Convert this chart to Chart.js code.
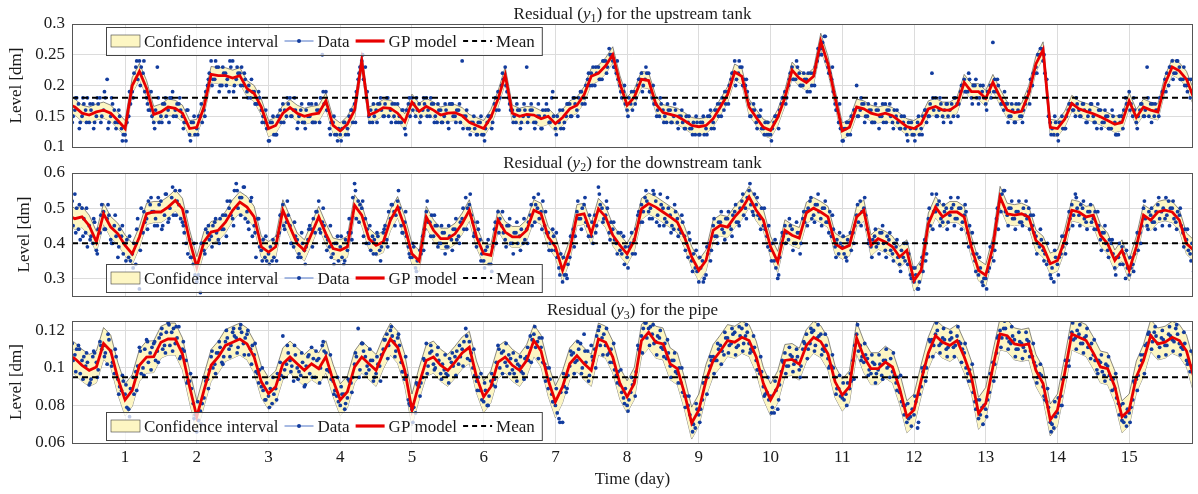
<!DOCTYPE html>
<html>
<head>
<meta charset="utf-8">
<script src="https://cdn.jsdelivr.net/npm/chart.js@4.4.1/dist/chart.umd.min.js"></script>
<style>
  html, body { margin: 0; padding: 0; background: #fff; }
  #wrap { position: relative; width: 1198px; height: 494px; }
  #wrap canvas { position: absolute; left: 0; top: 0; }
</style>
</head>
<body>
<div id="wrap">
  <canvas id="c1" width="1198" height="494"></canvas>
  <canvas id="c2" width="1198" height="494"></canvas>
  <canvas id="c3" width="1198" height="494"></canvas>
</div>
<script>
// ---- axes / labels ----
const dayTicks = [1, 2, 3, 4, 5, 6, 7, 8, 9, 10, 11, 12, 13, 14, 15];
const xMin = 0.26, xMax = 15.89;
const yTicks1 = [0.1, 0.15, 0.2, 0.25, 0.3];
const yTicks2 = [0.3, 0.4, 0.5, 0.6];
const yTicks3 = [0.06, 0.08, 0.1, 0.12];
const legendLabels = ['Confidence interval', 'Data', 'GP model', 'Mean'];
const titles = [
  ['Residual (', 'y', '1', ') for the upstream tank'],
  ['Residual (', 'y', '2', ') for the downstream tank'],
  ['Residual (', 'y', '3', ') for the pipe']
];

// GP model sampled every 0.1 day from 0.2; data every 0.05 day in three interleaved runs
const gpStart = 0.2, gpStep = 0.1;
const dataStartA = 0.25, dataStartB = 0.275, dataStartC = 0.2625, dataStep = 0.05;

// ---- upstream tank (y1) ----
const mean1 = 0.18, band1 = 0.013;
const gp1 = [
  .170,.165,.155,.152,.157,.160,.155,.143,
  .130,.200,.223,.195,.153,.157,.165,.163,.155,.130,
  .132,.165,.218,.216,.216,.212,.216,.195,.187,.165,
  .130,.135,.155,.164,.155,.150,.153,.155,.175,.135,
  .126,.137,.160,.240,.152,.157,.164,.163,.155,.141,
  .173,.158,.166,.160,.152,.155,.156,.151,.140,.135,
  .130,.148,.178,.217,.155,.150,.153,.152,.146,.150,
  .138,.148,.162,.168,.185,.215,.220,.232,.250,.203,
  .168,.181,.210,.208,.170,.156,.153,.150,.143,.135,
  .133,.135,.146,.165,.185,.222,.215,.165,.148,.132,
  .127,.148,.180,.225,.212,.205,.215,.272,.235,.180,
  .126,.132,.165,.162,.155,.152,.155,.151,.142,.133,
  .130,.138,.162,.166,.160,.160,.168,.205,.190,.190,
  .179,.205,.181,.160,.156,.158,.187,.235,.258,.132,
  .130,.145,.171,.162,.158,.154,.149,.143,.137,.140,
  .175,.148,.165,.160,.157,.203,.230,.224,.210,.180
];
const data1a = [
  .18,.16,.17,.15,.16,.14,.17,.15,.18,.16,.21,.15,.16,.14,.13,
  .12,.15,.19,.23,.24,.22,.18,.16,.14,.23,.15,.17,.16,.18,.16,.17,.15,.14,.12,.14,
  .13,.15,.16,.20,.24,.21,.23,.20,.22,.19,.24,.21,.22,.20,.19,.18,.19,.17,.16,.14,
  .11,.14,.12,.15,.17,.15,.18,.16,.13,.16,.14,.15,.17,.14,.16,.25,.19,.13,.14,.12,
  .12,.14,.13,.16,.17,.21,.24,.23,.15,.14,.16,.17,.15,.18,.16,.15,.17,.14,.13,.17,
  .18,.15,.17,.16,.18,.15,.17,.14,.16,.15,.14,.17,.15,.16,.24,.15,.13,.14,.12,.14,
  .12,.14,.15,.17,.19,.20,.23,.18,.16,.14,.16,.15,.23,.16,.14,.15,.13,.15,.16,.18,
  .13,.14,.16,.15,.17,.18,.16,.19,.18,.21,.22,.20,.23,.21,.24,.26,.24,.22,.20,.19,
  .16,.17,.19,.20,.22,.21,.22,.18,.17,.15,.16,.14,.16,.15,.14,.15,.13,.14,.13,.12,
  .12,.14,.13,.15,.14,.16,.17,.16,.19,.21,.24,.22,.23,.20,.17,.16,.14,.15,.13,.12,
  .12,.14,.15,.17,.19,.20,.23,.21,.22,.20,.21,.19,.22,.24,.26,.28,.23,.21,.17,.14,
  .11,.13,.14,.15,.20,.16,.17,.15,.16,.14,.16,.15,.17,.16,.14,.15,.13,.14,.12,.13,
  .12,.14,.13,.16,.15,.22,.18,.16,.15,.17,.16,.15,.17,.19,.21,.19,.18,.20,.17,.19,
  .17,.19,.27,.19,.18,.16,.17,.15,.14,.16,.15,.17,.19,.20,.23,.25,.24,.21,.14,.12,
  .12,.14,.13,.16,.17,.15,.16,.17,.14,.16,.15,.13,.16,.14,.15,.13,.14,.12,.15,.18,
  .19,.15,.14,.16,.15,.23,.17,.15,.16,.18,.21,.20,.24,.22,.23,.21,.20,.18,.16,.17
];
const data1b = [
  .15,.18,.14,.17,.18,.16,.14,.17,.15,.18,.14,.17,.13,.15,.12,
  .14,.17,.22,.21,.23,.19,.16,.15,.16,.14,.17,.15,.18,.15,.17,.16,.14,.16,.14,.12,
  .15,.14,.19,.22,.21,.23,.20,.22,.21,.23,.20,.22,.23,.21,.20,.19,.17,.18,.15,.13,
  .14,.12,.15,.14,.16,.17,.15,.16,.15,.14,.16,.15,.14,.16,.18,.17,.16,.14,.12,.13,
  .13,.12,.15,.14,.19,.23,.21,.19,.16,.15,.17,.16,.17,.15,.17,.14,.15,.16,.16,.15,
  .17,.16,.15,.17,.16,.17,.15,.16,.14,.16,.17,.15,.16,.14,.15,.13,.14,.13,.14,.12,
  .13,.15,.14,.16,.18,.21,.19,.16,.15,.16,.14,.16,.15,.16,.14,.15,.16,.17,.14,.15,
  .15,.13,.14,.17,.15,.17,.18,.17,.20,.20,.23,.22,.21,.24,.23,.25,.23,.21,.18,.17,
  .18,.16,.18,.21,.20,.22,.19,.17,.16,.17,.15,.16,.14,.16,.15,.14,.15,.13,.14,.14,
  .14,.12,.15,.13,.16,.15,.18,.17,.20,.22,.21,.23,.21,.19,.15,.16,.15,.13,.14,.12,
  .13,.15,.16,.18,.18,.22,.21,.23,.20,.21,.22,.20,.23,.25,.27,.24,.22,.19,.16,.13,
  .13,.12,.15,.16,.15,.17,.15,.16,.14,.16,.15,.14,.16,.15,.16,.14,.15,.13,.14,.12,
  .13,.12,.15,.14,.17,.16,.15,.17,.16,.15,.17,.18,.17,.20,.19,.21,.20,.18,.20,.18,
  .19,.18,.21,.20,.17,.17,.15,.16,.17,.15,.16,.18,.21,.22,.25,.26,.22,.15,.13,.14,
  .14,.13,.15,.17,.16,.17,.15,.16,.15,.17,.14,.16,.14,.15,.13,.15,.12,.14,.16,.17,
  .17,.16,.15,.17,.16,.15,.17,.16,.18,.19,.22,.23,.22,.24,.21,.20,.21,.19,.17,.18
];
const data1c = [
  .14,.18,.13,.18,.14,.17,.13,.18,.14,.19,.13,.18,.14,.16,.11,
  .11,.19,.18,.24,.20,.24,.17,.19,.13,.18,.14,.18,.14,.19,.15,.18,.13,.16,.11,.15,
  .12,.17,.15,.21,.20,.24,.19,.23,.20,.24,.19,.23,.20,.22,.18,.21,.17,.19,.14,.16,
  .11,.15,.12,.16,.14,.18,.15,.18,.14,.17,.13,.17,.14,.17,.14,.19,.16,.12,.15,.11,
  .11,.14,.12,.16,.14,.22,.25,.18,.14,.17,.14,.18,.15,.18,.14,.17,.14,.16,.12,.18,
  .16,.18,.14,.18,.15,.18,.14,.17,.14,.17,.13,.17,.14,.17,.13,.16,.12,.15,.12,.15,
  .11,.15,.13,.18,.16,.22,.20,.17,.14,.17,.13,.17,.14,.17,.13,.17,.13,.16,.14,.19,
  .12,.16,.13,.17,.15,.18,.15,.19,.17,.22,.20,.23,.21,.24,.22,.25,.23,.24,.19,.20,
  .15,.19,.17,.21,.19,.23,.19,.20,.15,.18,.14,.17,.14,.17,.13,.16,.13,.15,.12,.15,
  .12,.15,.12,.16,.13,.17,.15,.19,.17,.22,.20,.24,.20,.21,.15,.17,.13,.16,.12,.14,
  .11,.15,.13,.18,.17,.21,.21,.24,.20,.22,.19,.22,.20,.26,.25,.28,.22,.23,.16,.17,
  .11,.14,.12,.16,.15,.18,.14,.17,.14,.17,.13,.17,.14,.17,.13,.16,.13,.15,.11,.14,
  .11,.15,.12,.16,.15,.18,.15,.18,.14,.17,.14,.18,.15,.20,.19,.22,.17,.21,.18,.20,
  .16,.20,.19,.21,.17,.19,.14,.17,.14,.17,.14,.18,.17,.22,.22,.26,.25,.18,.12,.15,
  .11,.15,.13,.17,.16,.18,.15,.17,.14,.17,.14,.17,.13,.16,.13,.16,.12,.15,.13,.17,
  .16,.18,.13,.17,.15,.18,.14,.17,.15,.19,.19,.23,.21,.24,.21,.23,.19,.21,.17,.18
];

// ---- downstream tank (y2) ----
const mean2 = 0.4, band2 = 0.03;
const gp2 = [
  .480,.470,.475,.450,.404,.484,.446,.427,
  .394,.370,.418,.484,.489,.489,.503,.522,.498,.408,
  .332,.404,.432,.437,.460,.494,.517,.503,.475,.390,
  .375,.390,.494,.446,.399,.380,.427,.475,.427,.385,
  .380,.390,.508,.480,.413,.394,.404,.466,.503,.446,
  .370,.350,.475,.437,.413,.413,.427,.456,.494,.418,
  .370,.366,.466,.432,.418,.418,.437,.494,.484,.418,
  .390,.323,.380,.480,.484,.427,.498,.475,.423,.394,
  .370,.408,.498,.513,.503,.489,.475,.460,.418,.361,
  .323,.351,.437,.451,.446,.475,.498,.532,.494,.466,
  .390,.347,.437,.423,.415,.487,.500,.489,.475,.399,
  .385,.394,.475,.494,.394,.413,.404,.390,.361,.380,
  .294,.323,.456,.503,.475,.489,.489,.475,.390,.323,
  .309,.390,.532,.484,.480,.484,.475,.408,.390,.342,
  .351,.408,.494,.489,.475,.480,.423,.399,.351,.380,
  .323,.390,.480,.466,.489,.494,.489,.466,.399,.380
];
const data2a = [
  .47,.54,.44,.50,.43,.45,.40,.38,.43,.49,.47,.41,.45,.36,.42,
  .40,.36,.37,.34,.27,.43,.47,.51,.49,.45,.52,.48,.46,.53,.55,.51,.46,.40,.41,.34,
  .29,.26,.38,.43,.42,.46,.41,.44,.48,.50,.47,.57,.53,.56,.49,.52,.45,.47,.38,.36,
  .37,.35,.40,.43,.51,.46,.45,.39,.41,.36,.38,.41,.44,.43,.52,.46,.42,.39,.37,.40,
  .39,.34,.38,.43,.57,.52,.50,.47,.40,.42,.37,.38,.43,.41,.47,.49,.52,.45,.46,.39,
  .36,.33,.30,.42,.49,.46,.42,.45,.40,.43,.39,.41,.44,.42,.47,.53,.51,.46,.39,.41,
  .35,.39,.34,.44,.49,.45,.41,.45,.40,.43,.42,.40,.44,.48,.53,.50,.49,.45,.43,.38,
  .38,.33,.29,.31,.36,.44,.49,.47,.51,.45,.42,.48,.56,.50,.48,.43,.44,.40,.38,.42,
  .36,.40,.41,.48,.51,.53,.49,.47,.52,.45,.50,.46,.48,.44,.47,.43,.42,.36,.35,.33,
  .29,.35,.31,.40,.45,.42,.46,.43,.47,.44,.49,.46,.52,.50,.55,.49,.51,.47,.45,.42,
  .38,.35,.30,.40,.45,.41,.44,.40,.43,.47,.49,.52,.48,.51,.47,.50,.46,.42,.39,.37,
  .39,.36,.40,.43,.48,.52,.50,.44,.39,.42,.40,.43,.38,.41,.37,.39,.34,.36,.40,.31,
  .29,.27,.34,.41,.47,.54,.49,.52,.46,.50,.48,.51,.47,.50,.48,.43,.40,.35,.31,.29,
  .30,.33,.40,.47,.52,.55,.48,.50,.47,.49,.46,.48,.50,.45,.42,.39,.38,.34,.31,.29,
  .34,.37,.42,.44,.51,.54,.48,.50,.46,.49,.47,.44,.41,.43,.38,.40,.33,.36,.39,.30,
  .31,.34,.40,.43,.50,.45,.48,.46,.51,.49,.47,.52,.50,.46,.48,.43,.41,.37,.32,.39
];
const data2b = [
  .45,.50,.41,.47,.39,.42,.46,.44,.51,.44,.48,.40,.42,.44,.37,
  .41,.35,.40,.47,.50,.46,.52,.49,.47,.51,.45,.54,.50,.48,.52,.47,.43,.37,.36,.31,
  .31,.40,.44,.41,.45,.43,.47,.44,.52,.48,.55,.50,.53,.47,.44,.42,.36,.39,.41,.35,
  .39,.36,.42,.48,.44,.48,.40,.42,.37,.40,.39,.45,.47,.49,.43,.45,.41,.36,.40,.35,
  .36,.41,.47,.53,.47,.51,.42,.44,.38,.41,.42,.39,.45,.49,.51,.48,.50,.43,.42,.36,
  .39,.35,.37,.44,.46,.48,.45,.40,.43,.39,.42,.44,.41,.46,.44,.50,.48,.43,.44,.37,
  .38,.34,.39,.40,.47,.43,.45,.40,.43,.40,.44,.41,.46,.45,.51,.47,.52,.43,.40,.42,
  .36,.37,.31,.34,.40,.42,.47,.50,.46,.48,.40,.45,.51,.47,.50,.46,.41,.43,.37,.39,
  .39,.37,.44,.46,.49,.52,.50,.54,.48,.51,.47,.50,.45,.49,.44,.46,.40,.41,.37,.32,
  .33,.30,.37,.38,.42,.46,.44,.47,.45,.48,.46,.50,.48,.53,.51,.54,.48,.50,.44,.45,
  .40,.33,.36,.42,.43,.45,.40,.43,.40,.46,.50,.47,.51,.49,.50,.46,.49,.44,.41,.40,
  .37,.41,.38,.45,.46,.49,.48,.41,.41,.39,.43,.40,.42,.38,.40,.36,.38,.35,.37,.33,
  .31,.29,.32,.37,.45,.49,.51,.47,.49,.46,.50,.47,.50,.46,.49,.45,.37,.37,.33,.30,
  .32,.36,.38,.44,.54,.49,.50,.47,.49,.46,.50,.47,.48,.43,.40,.41,.37,.35,.33,.36,
  .36,.39,.40,.47,.48,.50,.51,.47,.49,.46,.49,.45,.43,.40,.41,.37,.36,.34,.37,.33,
  .33,.37,.38,.45,.47,.49,.46,.49,.47,.50,.48,.50,.47,.49,.45,.44,.38,.40,.35,.36
];
const data2c = [
  .52,.43,.51,.42,.50,.41,.47,.37,.48,.44,.51,.40,.48,.39,.45,
  .35,.42,.33,.44,.38,.49,.44,.53,.45,.53,.44,.54,.47,.56,.48,.55,.45,.49,.36,.40,
  .30,.40,.37,.45,.39,.47,.40,.48,.42,.52,.45,.55,.48,.56,.46,.53,.43,.47,.35,.42,
  .34,.41,.35,.48,.45,.52,.40,.46,.36,.43,.34,.44,.39,.49,.44,.50,.38,.45,.34,.42,
  .42,.35,.43,.41,.55,.46,.52,.40,.45,.37,.43,.35,.44,.39,.51,.45,.55,.43,.49,.37,
  .40,.32,.38,.38,.52,.42,.48,.39,.45,.37,.45,.38,.47,.40,.50,.44,.54,.42,.46,.35,
  .33,.41,.32,.46,.43,.49,.39,.47,.37,.46,.38,.47,.40,.51,.46,.54,.44,.49,.38,.44,
  .43,.31,.36,.30,.42,.39,.52,.44,.53,.42,.46,.43,.54,.46,.52,.41,.46,.37,.43,.34,
  .33,.43,.37,.49,.46,.55,.47,.55,.46,.54,.45,.53,.43,.51,.42,.48,.38,.43,.32,.38,
  .36,.29,.39,.35,.47,.40,.49,.41,.49,.42,.51,.45,.54,.47,.57,.48,.53,.44,.50,.39,
  .35,.41,.31,.43,.40,.47,.38,.46,.37,.49,.45,.53,.46,.54,.45,.52,.43,.48,.36,.43,
  .42,.35,.43,.40,.51,.45,.53,.40,.36,.44,.37,.45,.36,.43,.35,.41,.32,.40,.34,.30,
  .33,.27,.36,.35,.50,.44,.54,.45,.51,.44,.53,.45,.53,.44,.51,.39,.43,.32,.36,.28,
  .27,.39,.35,.50,.49,.55,.45,.52,.44,.52,.45,.52,.44,.48,.37,.44,.35,.40,.30,.38,
  .31,.42,.37,.49,.45,.53,.45,.52,.44,.51,.44,.49,.38,.45,.36,.41,.31,.40,.34,.38,
  .36,.32,.43,.40,.52,.44,.50,.44,.53,.45,.53,.45,.52,.44,.50,.39,.44,.35,.42,.34
];

// ---- pipe (y3) ----
const mean3 = 0.095, band3 = 0.0085;
const gp3 = [
  .107,.105,.1014,.0987,.1005,.113,.109,.0943,
  .083,.088,.1014,.1058,.106,.1137,.1154,.1154,.1075,.090,
  .074,.088,.1014,.1058,.112,.1137,.1154,.1128,.1058,.0926,
  .0864,.090,.1022,.1058,.1022,.0987,.1022,.0996,.106,.0934,
  .083,.0873,.1005,.1058,.1022,.0987,.108,.1154,.111,.0987,
  .0776,.0917,.104,.1058,.1014,.0987,.1031,.108,.111,.0952,
  .0846,.090,.1031,.1058,.1014,.0987,.104,.1146,.109,.0934,
  .082,.090,.1022,.1066,.1022,.0987,.1154,.1137,.1058,.0917,
  .0846,.0917,.1146,.119,.1137,.1128,.1022,.0996,.0864,.0706,
  .0776,.0934,.104,.109,.1146,.1137,.1163,.1146,.1058,.0917,
  .083,.090,.104,.1045,.102,.112,.1163,.114,.1075,.0926,
  .0855,.090,.116,.106,.0996,.0996,.1031,.1005,.089,.074,
  .0776,.0934,.108,.1172,.1137,.112,.1146,.106,.0952,.0758,
  .0811,.1005,.1181,.1172,.1128,.112,.1128,.0987,.0917,.0723,
  .0776,.097,.1181,.1163,.1146,.108,.1005,.0996,.090,.074,
  .0776,.0952,.104,.1172,.1128,.1137,.1163,.1146,.109,.0952
];
const data3a = [
  .110,.107,.112,.104,.101,.091,.106,.103,.114,.112,.102,.109,.097,.094,.088,
  .086,.078,.071,.098,.111,.100,.115,.108,.113,.109,.118,.112,.124,.119,.113,.122,.110,.104,.093,.081,
  .066,.077,.084,.094,.106,.102,.108,.103,.114,.110,.119,.116,.121,.113,.118,.110,.107,.097,.090,.083,
  .085,.081,.089,.094,.117,.102,.104,.093,.100,.096,.090,.106,.111,.095,.105,.112,.108,.098,.093,.085,
  .080,.086,.084,.092,.102,.121,.113,.106,.099,.104,.097,.101,.110,.118,.120,.114,.116,.103,.094,.083,
  .078,.076,.090,.095,.113,.108,.102,.107,.097,.099,.096,.103,.106,.102,.110,.121,.114,.100,.093,.088,
  .082,.080,.093,.094,.112,.108,.103,.107,.099,.104,.101,.097,.106,.117,.118,.114,.111,.102,.089,.086,
  .080,.073,.071,.087,.101,.108,.104,.113,.118,.109,.112,.110,.120,.116,.112,.108,.103,.096,.091,.084,
  .080,.087,.093,.112,.117,.124,.121,.118,.114,.116,.110,.105,.101,.104,.097,.092,.085,.080,.072,.068,
  .075,.083,.095,.101,.106,.104,.112,.107,.116,.113,.119,.112,.121,.117,.113,.109,.104,.097,.090,.087,
  .085,.076,.078,.098,.108,.101,.106,.104,.099,.110,.118,.113,.120,.116,.118,.109,.105,.101,.095,.089,
  .084,.086,.089,.104,.118,.112,.103,.105,.097,.102,.099,.096,.104,.101,.098,.092,.087,.080,.071,.074,
  .075,.068,.090,.101,.106,.115,.118,.112,.116,.110,.115,.111,.117,.113,.108,.097,.093,.082,.073,.079,
  .078,.087,.103,.108,.120,.121,.116,.113,.115,.110,.113,.109,.114,.106,.101,.097,.090,.082,.071,.068,
  .076,.085,.095,.104,.119,.116,.118,.113,.117,.111,.107,.099,.103,.096,.101,.094,.089,.081,.072,.074,
  .076,.083,.094,.101,.107,.113,.117,.119,.113,.116,.112,.118,.115,.121,.113,.110,.104,.098,.092,.080
];
const data3b = [
  .104,.110,.097,.106,.103,.094,.108,.099,.110,.108,.115,.103,.106,.090,.093,
  .079,.089,.086,.101,.097,.110,.103,.111,.104,.116,.110,.119,.112,.121,.116,.106,.109,.093,.089,.075,
  .072,.081,.093,.099,.100,.108,.111,.106,.116,.112,.117,.111,.119,.116,.107,.112,.098,.099,.088,.092,
  .089,.086,.097,.096,.099,.108,.101,.107,.098,.103,.101,.097,.105,.104,.100,.109,.099,.094,.088,.082,
  .086,.081,.093,.095,.106,.099,.109,.101,.104,.095,.102,.107,.115,.112,.117,.109,.112,.098,.096,.080,
  .079,.091,.092,.104,.101,.109,.100,.104,.102,.097,.105,.101,.109,.106,.114,.105,.108,.096,.095,.083,
  .088,.085,.091,.103,.100,.109,.101,.105,.097,.102,.098,.105,.104,.115,.111,.116,.103,.100,.094,.082,
  .076,.087,.090,.096,.107,.103,.110,.100,.103,.096,.104,.117,.112,.118,.107,.110,.099,.098,.087,.089,
  .083,.091,.098,.109,.121,.116,.122,.113,.117,.111,.113,.108,.104,.098,.100,.087,.085,.075,.070,.078,
  .078,.092,.095,.104,.104,.110,.109,.116,.112,.118,.111,.117,.113,.119,.110,.111,.099,.098,.086,.083,
  .079,.088,.091,.103,.101,.107,.102,.106,.101,.113,.110,.119,.112,.117,.110,.112,.101,.100,.089,.085,
  .083,.092,.093,.112,.109,.106,.107,.099,.103,.097,.102,.104,.100,.105,.096,.095,.082,.080,.073,.078,
  .082,.086,.098,.100,.114,.112,.120,.113,.115,.111,.116,.112,.114,.110,.100,.099,.087,.083,.075,.080,
  .083,.097,.102,.117,.116,.121,.114,.117,.110,.114,.111,.115,.109,.103,.095,.096,.083,.079,.070,.074,
  .080,.094,.101,.116,.115,.120,.113,.116,.111,.113,.104,.104,.098,.102,.096,.094,.084,.080,.071,.078,
  .079,.092,.096,.104,.112,.119,.114,.117,.111,.115,.112,.117,.114,.118,.111,.113,.103,.101,.090,.085
];
const data3c = [
  .113,.098,.110,.094,.108,.092,.109,.095,.112,.106,.118,.101,.110,.086,.096,
  .091,.074,.095,.088,.109,.096,.114,.099,.114,.103,.121,.108,.123,.109,.122,.105,.114,.092,.097,.073,
  .082,.070,.095,.089,.109,.097,.114,.102,.120,.106,.121,.108,.123,.107,.120,.102,.113,.092,.100,.083,
  .079,.095,.083,.103,.095,.112,.098,.112,.094,.108,.091,.107,.095,.109,.092,.114,.099,.107,.086,.095,
  .090,.078,.094,.087,.108,.095,.113,.097,.110,.093,.106,.093,.115,.105,.122,.106,.118,.098,.106,.081,
  .071,.092,.085,.105,.097,.112,.099,.111,.094,.107,.092,.108,.096,.112,.101,.117,.104,.110,.088,.097,
  .092,.080,.097,.090,.110,.097,.113,.097,.108,.093,.106,.094,.111,.103,.122,.105,.116,.093,.100,.082,
  .089,.071,.097,.089,.109,.097,.114,.097,.109,.093,.106,.100,.122,.107,.121,.103,.113,.092,.099,.081,
  .077,.095,.085,.110,.108,.124,.112,.123,.107,.120,.106,.115,.095,.108,.092,.100,.079,.085,.066,.081,
  .071,.092,.086,.106,.097,.113,.102,.119,.108,.121,.107,.122,.109,.123,.108,.117,.099,.106,.085,.095,
  .076,.093,.083,.104,.097,.111,.098,.110,.095,.114,.105,.121,.109,.123,.107,.118,.100,.107,.086,.096,
  .092,.080,.097,.094,.123,.104,.113,.096,.107,.092,.107,.094,.110,.095,.108,.088,.096,.075,.081,.069,
  .085,.071,.100,.093,.115,.106,.124,.108,.121,.106,.119,.106,.122,.103,.113,.093,.102,.078,.083,.070,
  .074,.097,.093,.116,.111,.125,.110,.122,.106,.119,.105,.119,.106,.113,.092,.102,.085,.089,.066,.082,
  .084,.080,.104,.101,.124,.110,.123,.108,.121,.105,.115,.097,.107,.093,.106,.088,.097,.075,.081,.069,
  .071,.093,.088,.107,.097,.118,.110,.122,.106,.120,.107,.122,.109,.123,.107,.119,.102,.109,.088,.097
];

// ---- style ----
const serif = "'Liberation Serif', 'Times New Roman', serif";
const fontPx = 17;
const bandFill = '#fdf6c3';
const bandLine = '#3c3c3c';
const dotColor = '#123c9e';
const gpColor = '#e80000';
const gridColor = '#dcdcdc';
const textColor = '#1a1a1a';

function series(values, start, step) {
  return values.map((v, i) => ({ x: +(start + i * step).toFixed(4), y: v }));
}

// frame, legend, titles and axis labels drawn on top of each panel
const panelDeco = {
  id: 'panelDeco',
  afterDatasetsDraw(chart, args, opts) {
    const { ctx, chartArea: a } = chart;
    const fN = fontPx + 'px ' + serif, fI = 'italic ' + fontPx + 'px ' + serif, fS = '12px ' + serif;
    ctx.save();
    // frame
    ctx.strokeStyle = '#555';
    ctx.lineWidth = 1;
    ctx.strokeRect(Math.round(a.left) + 0.5, Math.round(a.top) + 0.5,
      Math.round(a.right - a.left) - 1, Math.round(a.bottom - a.top));

    // legend box
    ctx.font = fN;
    const x0 = 106, top = opts.legendTop, h = 28, cy = top + h / 2;
    const symW = 29;
    let w = 5;
    legendLabels.forEach(l => { w += symW + 4 + ctx.measureText(l).width + 6; });
    w += 1;
    ctx.fillStyle = 'rgba(255,255,255,0.72)';
    ctx.fillRect(x0, top, w, h);
    ctx.strokeStyle = '#444';
    ctx.strokeRect(x0 + 0.5, top + 0.5, w, h);
    let x = x0 + 5;
    legendLabels.forEach((label, i) => {
      ctx.save();
      if (i === 0) {
        ctx.fillStyle = bandFill;
        ctx.fillRect(x, cy - 6, symW, 12);
        ctx.strokeStyle = bandLine;
        ctx.lineWidth = 0.6;
        ctx.strokeRect(x, cy - 6, symW, 12);
      } else if (i === 1) {
        ctx.strokeStyle = '#4f74c6';
        ctx.lineWidth = 1;
        ctx.beginPath(); ctx.moveTo(x, cy); ctx.lineTo(x + symW, cy); ctx.stroke();
        ctx.fillStyle = dotColor;
        ctx.beginPath(); ctx.arc(x + symW / 2, cy, 2, 0, Math.PI * 2); ctx.fill();
      } else if (i === 2) {
        ctx.strokeStyle = gpColor;
        ctx.lineWidth = 3.2;
        ctx.beginPath(); ctx.moveTo(x, cy); ctx.lineTo(x + symW, cy); ctx.stroke();
      } else {
        ctx.strokeStyle = '#000';
        ctx.lineWidth = 2;
        ctx.setLineDash([5, 4]);
        ctx.beginPath(); ctx.moveTo(x, cy); ctx.lineTo(x + symW, cy); ctx.stroke();
      }
      ctx.restore();
      x += symW + 4;
      ctx.fillStyle = textColor;
      ctx.textBaseline = 'alphabetic';
      ctx.fillText(label, x, cy + 5.5);
      x += ctx.measureText(label).width + 6;
    });

    // panel title: Residual (y_n) ...
    const [pre, it, sub, post] = opts.title;
    ctx.font = fN; const w1 = ctx.measureText(pre).width, w4 = ctx.measureText(post).width;
    ctx.font = fI; const w2 = ctx.measureText(it).width;
    ctx.font = fS; const w3 = ctx.measureText(sub).width;
    let tx = (a.left + a.right) / 2 - (w1 + w2 + w3 + w4) / 2;
    const by = opts.titleBase;
    ctx.fillStyle = textColor;
    ctx.font = fN; ctx.fillText(pre, tx, by); tx += w1;
    ctx.font = fI; ctx.fillText(it, tx, by); tx += w2;
    ctx.font = fS; ctx.fillText(sub, tx, by + 3.5); tx += w3;
    ctx.font = fN; ctx.fillText(post, tx, by);

    // y axis label
    ctx.save();
    ctx.translate(opts.yLabelX, (a.top + a.bottom) / 2);
    ctx.rotate(-Math.PI / 2);
    ctx.font = fN;
    ctx.textAlign = 'center';
    ctx.fillText('Level [dm]', 0, 0);
    ctx.restore();

    if (opts.xLabel) {
      ctx.font = fN;
      ctx.textAlign = 'center';
      ctx.fillText(opts.xLabel, (a.left + a.right) / 2, 484);
    }
    ctx.restore();
  }
};

function makePanel(id, gp, dataSets, band, mean, yMin, yMax, yTicks, deco, padTop, padBottom, showX) {
  const gpPts = series(gp, gpStart, gpStep);
  const upper = gpPts.map(p => ({ x: p.x, y: p.y + band }));
  const lower = gpPts.map(p => ({ x: p.x, y: p.y - band }));
  const dots = series(dataSets[0], dataStartA, dataStep)
    .concat(series(dataSets[1], dataStartB, dataStep))
    .concat(series(dataSets[2], dataStartC, dataStep))
    .sort((p, q) => p.x - q.x);
  const ctx = document.getElementById(id).getContext('2d');
  return new Chart(ctx, {
    type: 'line',
    data: {
      datasets: [
        { label: 'upper', data: upper, fill: '+1', backgroundColor: bandFill, borderColor: bandLine, borderWidth: 0.6, pointRadius: 0, order: 5, clip: 0 },
        { label: 'lower', data: lower, fill: false, borderColor: bandLine, borderWidth: 0.6, pointRadius: 0, order: 5, clip: 0 },
        { label: 'Data', data: dots, showLine: false, pointRadius: 1.9, pointBorderWidth: 0, pointBackgroundColor: dotColor, order: 3, clip: 0 },
        { label: 'GP model', data: gpPts, borderColor: gpColor, borderWidth: 2.8, pointRadius: 0, fill: false, order: 2, clip: 0 },
        { label: 'Mean', data: [{ x: xMin, y: mean }, { x: xMax, y: mean }], borderColor: '#000', borderWidth: 2, borderDash: [6, 4], pointRadius: 0, fill: false, order: 1, clip: 0 }
      ]
    },
    options: {
      responsive: false, animation: false, events: [],
      layout: { padding: { top: padTop, bottom: padBottom, left: 0, right: 5 } },
      plugins: { legend: { display: false }, tooltip: { enabled: false }, title: { display: false }, panelDeco: deco },
      scales: {
        x: {
          type: 'linear', min: xMin, max: xMax,
          afterBuildTicks: s => { s.ticks = dayTicks.map(v => ({ value: v })); },
          afterFit: s => { s.height = showX ? 51 : 0; },
          grid: { color: gridColor, drawTicks: false },
          border: { display: false },
          ticks: { display: showX, padding: 4, color: textColor, font: { family: serif, size: fontPx }, callback: v => String(v) }
        },
        y: {
          min: yMin, max: yMax,
          afterBuildTicks: s => { s.ticks = yTicks.map(v => ({ value: v })); },
          afterFit: s => { s.width = 72; },
          grid: { color: gridColor, drawTicks: false },
          border: { display: false },
          ticks: { padding: 7, color: textColor, font: { family: serif, size: fontPx }, callback: v => String(v) }
        }
      }
    },
    plugins: [panelDeco]
  });
}

makePanel('c1', gp1, [data1a, data1b, data1c], band1, mean1, 0.1, 0.3, yTicks1,
  { title: titles[0], titleBase: 18.5, legendTop: 27, yLabelX: 21 }, 24, 494 - 147, false);
makePanel('c2', gp2, [data2a, data2b, data2c], band2, mean2, 0.25, 0.6, yTicks2,
  { title: titles[1], titleBase: 167.5, legendTop: 264, yLabelX: 29 }, 173, 494 - 296, false);
makePanel('c3', gp3, [data3a, data3b, data3c], band3, mean3, 0.06, 0.125, yTicks3,
  { title: titles[2], titleBase: 315, legendTop: 412, yLabelX: 21, xLabel: 'Time (day)' }, 321, 0, true);
</script>
</body>
</html>
